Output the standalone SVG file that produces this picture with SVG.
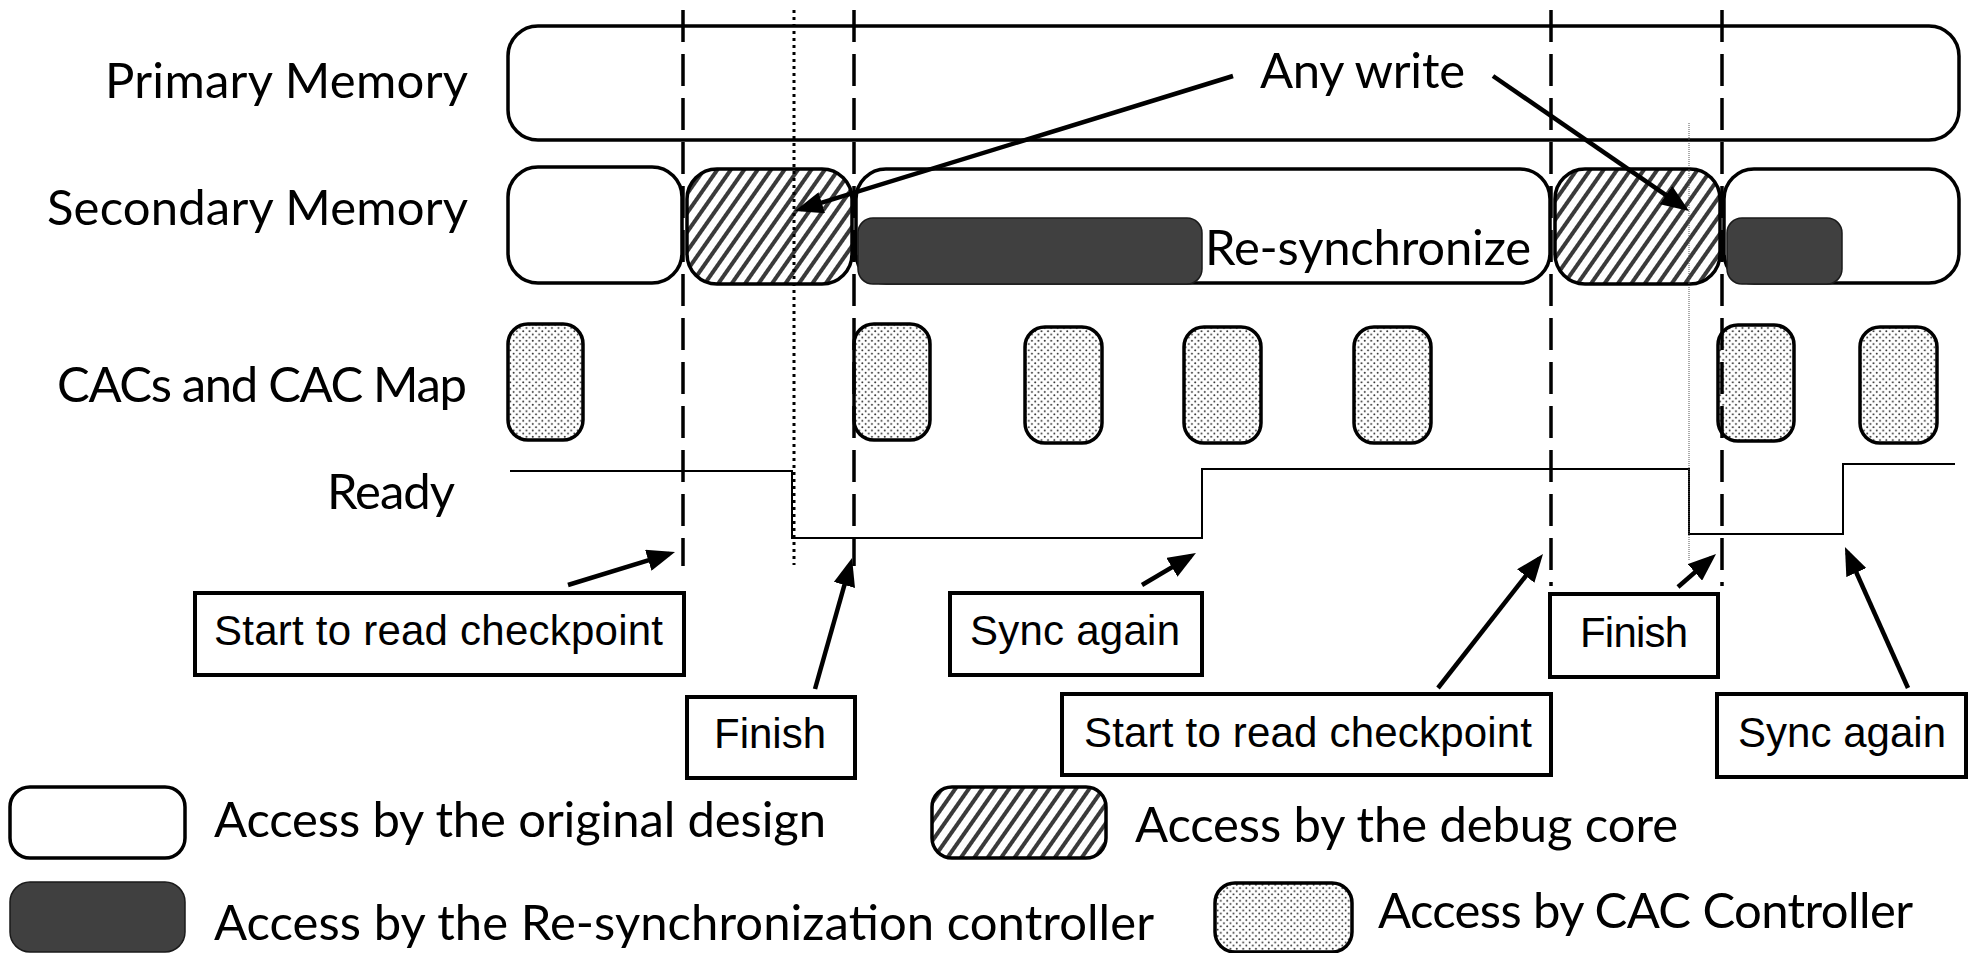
<svg xmlns="http://www.w3.org/2000/svg" width="1970" height="953" viewBox="0 0 1970 953">
<defs>
<pattern id="hatch" patternUnits="userSpaceOnUse" width="11" height="11" patternTransform="rotate(35)">
<rect width="11" height="11" fill="#fff"/>
<line x1="3" y1="-1" x2="3" y2="12" stroke="#3a3a3a" stroke-width="4"/>
</pattern>
<pattern id="dots" patternUnits="userSpaceOnUse" width="6.4" height="6.4">
<rect width="6.4" height="6.4" fill="#fff"/>
<circle cx="1.6" cy="1.6" r="0.95" fill="#222"/>
<circle cx="4.8" cy="4.8" r="0.95" fill="#222"/>
</pattern>
<marker id="arr" markerUnits="userSpaceOnUse" markerWidth="28" markerHeight="22" viewBox="0 0 28 22" refX="22" refY="11" orient="auto">
<path d="M0,0 L28,11 L0,22 z" fill="#000"/>
</marker>
</defs>
<style>
.lbl{font-family:Lato,"Open Sans",sans-serif;font-size:49px;fill:#000}
.ar{font-family:"Liberation Sans",Arial,sans-serif;font-size:42px;fill:#000}
.w{fill:#fff;stroke:#000;stroke-width:3.5}
.h{fill:url(#hatch);stroke:#000;stroke-width:3.5}
.d{fill:url(#dots);stroke:#000;stroke-width:3.5}
.k{fill:#404040;stroke:#1a1a1a;stroke-width:1.5}
.box{fill:#fff;stroke:#000;stroke-width:4}
.dash{stroke:#000;stroke-width:3.5;stroke-dasharray:32 12;fill:none}
.dot{stroke:#000;stroke-width:3;stroke-dasharray:3 4;fill:none}
.thin{stroke:#555;stroke-width:1;stroke-dasharray:1 1;fill:none}
.conn{stroke:#000;stroke-width:4.5;fill:none;marker-end:url(#arr)}
.sig{stroke:#000;stroke-width:2;fill:none}
</style>
<rect width="1970" height="953" fill="#fff"/>

<g id="row-labels">
<text class="lbl" x="105" y="98" textLength="363">Primary Memory</text>
<text class="lbl" x="47" y="225" textLength="421">Secondary Memory</text>
<text class="lbl" x="57" y="402" textLength="410">CACs and CAC Map</text>
<text class="lbl" x="327" y="509" textLength="128">Ready</text>
</g>

<g id="primary-memory">
<rect class="w" x="508" y="26" width="1451" height="114" rx="30"/>
</g>

<g id="secondary-memory">
<rect id="sec-1" class="w" x="508" y="167" width="174" height="116" rx="30"/>
<rect id="sec-2" class="h" x="687" y="169" width="165" height="115" rx="30"/>
<rect id="sec-3" class="w" x="856" y="169" width="694" height="114" rx="30"/>
<rect id="resync-1" class="k" x="858" y="218" width="344" height="66" rx="15"/>
<text class="lbl" x="1205" y="265" textLength="326">Re-synchronize</text>
<rect id="sec-4" class="h" x="1555" y="169" width="165" height="115" rx="30"/>
<rect id="sec-5" class="w" x="1724" y="169" width="235" height="114" rx="30"/>
<rect id="resync-2" class="k" x="1727" y="218" width="115" height="66" rx="15"/>
</g>

<g id="cac-map">
<rect class="d" x="508" y="324" width="75" height="116" rx="20"/>
<rect class="d" x="854" y="324" width="76" height="116" rx="20"/>
<rect class="d" x="1025" y="327" width="77" height="116" rx="20"/>
<rect class="d" x="1184" y="327" width="77" height="116" rx="20"/>
<rect class="d" x="1354" y="327" width="77" height="116" rx="20"/>
<rect class="d" x="1718" y="325" width="76" height="116" rx="20"/>
<rect class="d" x="1860" y="327" width="77" height="116" rx="20"/>
</g>

<g id="ready-signal">
<path class="sig" d="M510,471 H792 V538 H1202 V469 H1689 V534 H1843 V464 H1955"/>
</g>

<g id="time-markers">
<line class="dash" x1="683" y1="10" x2="683" y2="566"/>
<line class="dash" x1="854" y1="10" x2="854" y2="566"/>
<line class="dash" x1="1551" y1="10" x2="1551" y2="586"/>
<line class="dash" x1="1722" y1="10" x2="1722" y2="586"/>
<line class="dot" x1="794" y1="10" x2="794" y2="565"/>
<line class="thin" x1="1689" y1="123" x2="1689" y2="560"/>
</g>

<g id="any-write">
<text class="lbl" x="1260" y="88" textLength="205">Any write</text>
</g>

<g id="start-read-1">
<rect class="box" x="195" y="593" width="489" height="82"/>
<text class="ar" x="214" y="645" textLength="449">Start to read checkpoint</text>
</g>
<g id="finish-1">
<rect class="box" x="687" y="697" width="168" height="81"/>
<text class="ar" x="714" y="748" textLength="112">Finish</text>
</g>
<g id="sync-again-1">
<rect class="box" x="950" y="593" width="252" height="82"/>
<text class="ar" x="970" y="645" textLength="210">Sync again</text>
</g>
<g id="start-read-2">
<rect class="box" x="1062" y="694" width="489" height="81"/>
<text class="ar" x="1084" y="747" textLength="448">Start to read checkpoint</text>
</g>
<g id="finish-2">
<rect class="box" x="1550" y="594" width="168" height="83"/>
<text class="ar" x="1580" y="647" textLength="108">Finish</text>
</g>
<g id="sync-again-2">
<rect class="box" x="1717" y="694" width="249" height="83"/>
<text class="ar" x="1738" y="747" textLength="208">Sync again</text>
</g>

<g id="connectors">
<line class="conn" x1="568" y1="585" x2="669.3" y2="553.8"/>
<line class="conn" x1="815" y1="689" x2="850.4" y2="563.8"/>
<line class="conn" x1="1142" y1="585" x2="1190.8" y2="556.1"/>
<line class="conn" x1="1438" y1="688" x2="1539.3" y2="558.7"/>
<line class="conn" x1="1678" y1="587" x2="1711.5" y2="557.9"/>
<line class="conn" x1="1908" y1="688" x2="1847.4" y2="552.5"/>
<line class="conn" x1="1233" y1="76" x2="800.7" y2="209.2"/>
<line class="conn" x1="1493" y1="76" x2="1684.1" y2="207.6"/>
</g>

<g id="legend">
<rect class="w" x="10" y="787" width="175" height="71" rx="20"/>
<text class="lbl" x="214" y="837" textLength="612">Access by the original design</text>
<rect class="h" x="932" y="787" width="174" height="71" rx="20"/>
<text class="lbl" x="1135" y="842" textLength="543">Access by the debug core</text>
<rect class="k" x="10" y="882" width="175" height="70" rx="20"/>
<text class="lbl" x="214" y="940" textLength="940">Access by the Re-synchronization controller</text>
<rect class="d" x="1215" y="883" width="137" height="69" rx="20"/>
<text class="lbl" x="1378" y="928" textLength="535">Access by CAC Controller</text>
</g>
</svg>
